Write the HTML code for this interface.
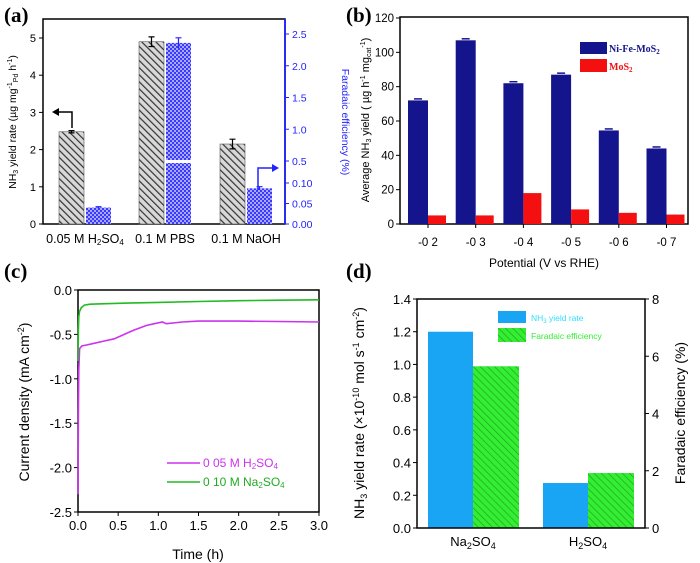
<!DOCTYPE html>
<html><head><meta charset="utf-8">
<style>
html,body{margin:0;padding:0;background:#fff;}
svg{display:block;font-family:"Liberation Sans",sans-serif;}
</style></head>
<body>
<svg id="fig" width="700" height="563" viewBox="0 0 700 563" xmlns="http://www.w3.org/2000/svg">
<defs>
<pattern id="hatchGray" patternUnits="userSpaceOnUse" width="5" height="5" patternTransform="rotate(-45)">
<rect width="5" height="5" fill="#d8d8d8"/><line x1="0" y1="0" x2="0" y2="5" stroke="#333" stroke-width="2.4"/></pattern>
<pattern id="checkBlue" patternUnits="userSpaceOnUse" width="4" height="4">
<rect width="4" height="4" fill="#3a3aff"/><rect width="2" height="2" fill="#a8a8ff"/><rect x="2" y="2" width="2" height="2" fill="#a8a8ff"/></pattern>
<pattern id="hatchGreen" patternUnits="userSpaceOnUse" width="5" height="5" patternTransform="rotate(-45)">
<rect width="5" height="5" fill="#33ee33"/><line x1="0" y1="0" x2="0" y2="5" stroke="#22aa22" stroke-width="1.5"/></pattern>
</defs>
<g id="pa"></g>
<g id="pb"></g>
<g id="pc"></g>
<g id="pd"></g>
</svg>
<script>
// ---- Panel (a) data
const aCategories = ["0.05 M H\u2082SO\u2084", "0.1 M PBS", "0.1 M NaOH"];
const aYield = [2.48, 4.9, 2.15];
const aYieldErr = [0.03, 0.13, 0.13];
const aFE = [0.04, 2.36, 0.087];
const aFEErr = [0.002, 0.08, 0.004];
const aLeftTicks = [0, 1, 2, 3, 4, 5];
const aRightTicks = [0, 0.05, 0.10, 0.5, 1.0, 1.5, 2.0, 2.5];
const aRightTickLabels = ["0.00", "0.05", "0.10", "0.5", "1.0", "1.5", "2.0", "2.5"];
// ---- Panel (b) data
const bCategories = ["-0.2", "-0.3", "-0.4", "-0.5", "-0.6", "-0.7"];
const bNiFe = [72, 107, 82, 87, 54.5, 44];
const bMoS2 = [5, 5, 18, 8.5, 6.5, 5.5];
const bTicks = [0, 20, 40, 60, 80, 100, 120];
// ---- Panel (c) data
const cTimeH2 = [0, 0.005, 0.01, 0.02, 0.05, 0.1, 0.2, 0.3, 0.45, 0.6, 0.7, 0.85, 0.95, 1.05, 1.1, 1.3, 1.5, 2.0, 2.5, 3.0];
const cCurH2 = [-2.3, -1.4, -0.9, -0.66, -0.63, -0.62, -0.6, -0.58, -0.55, -0.49, -0.45, -0.4, -0.38, -0.36, -0.38, -0.36, -0.35, -0.35, -0.355, -0.36];
const cTimeNa = [0, 0.005, 0.01, 0.02, 0.04, 0.08, 0.15, 0.5, 1.0, 1.5, 2.0, 2.5, 3.0];
const cCurNa = [-0.8, -0.45, -0.3, -0.24, -0.2, -0.17, -0.16, -0.15, -0.14, -0.13, -0.12, -0.115, -0.11];
const cYTicks = [0, -0.5, -1.0, -1.5, -2.0, -2.5];
const cXTicks = [0, 0.5, 1.0, 1.5, 2.0, 2.5, 3.0];
// ---- Panel (d) data
const dCategories = ["Na\u2082SO\u2084", "H\u2082SO\u2084"];
const dYield = [1.2, 0.275];
const dFE = [5.65, 1.92];
const dLeftTicks = [0, 0.2, 0.4, 0.6, 0.8, 1.0, 1.2, 1.4];
const dRightTicks = [0, 2, 4, 6, 8];

const NS = "http://www.w3.org/2000/svg";
function mk(parent, tag, attrs, text) {
  const e = document.createElementNS(NS, tag);
  for (const k in attrs) e.setAttribute(k, attrs[k]);
  if (text !== undefined) e.textContent = text;
  parent.appendChild(e);
  return e;
}
function lbl(parent, x, y, html, opts) {
  const t = mk(parent, "text", Object.assign({x: x, y: y, "font-size": 12, fill: "#000"}, opts || {}));
  t.innerHTML = html;
  return t;
}

// ================= Panel A
(function(){
  const g = document.getElementById("pa");
  const L = 43, R = 285, T = 19, B = 224;
  const yL = v => B - v * 37.2;
  const yR = v => v <= 0.1 ? B - v * 410 : 161 - (v - 0.5) * 63.5;
  let t = lbl(g, 4, 22, "(a)", {"font-size": 21, "font-weight": "bold", "font-family": "Liberation Serif, serif"});
   
  const fr = mk(g, "rect", {x: L, y: T, width: R - L, height: B - T, fill: "none", stroke: "#000", "stroke-width": 1.5});
   
  mk(g, "line", {x1: R, y1: T, x2: R, y2: B, stroke: "#22f", "stroke-width": 1.8});
  const gx = [59, 139, 220], bw = 25;
  aCategories.forEach((c, i) => {
    const r1 = mk(g, "rect", {x: gx[i], y: yL(aYield[i]), width: bw, height: B - yL(aYield[i]), fill: "url(#hatchGray)", stroke: "#555", "stroke-width": 0.6});
     
    mk(g, "path", {d: `M${gx[i]+bw/2} ${yL(aYield[i]-aYieldErr[i])}V${yL(aYield[i]+aYieldErr[i])}M${gx[i]+bw/2-3} ${yL(aYield[i]+aYieldErr[i])}h6M${gx[i]+bw/2-3} ${yL(aYield[i]-aYieldErr[i])}h6`, stroke: "#000", "stroke-width": 1.2});
    const bx = gx[i] + bw + 2;
    const r2 = mk(g, "rect", {x: bx, y: yR(aFE[i]), width: bw, height: B - yR(aFE[i]), fill: "url(#checkBlue)"});
     
    if (aFE[i] > 0.5) mk(g, "rect", {x: bx, y: 160, width: bw, height: 3, fill: "#fff"});
    mk(g, "path", {d: `M${bx+bw/2} ${yR(aFE[i]-aFEErr[i])}V${yR(aFE[i]+aFEErr[i])}M${bx+bw/2-3} ${yR(aFE[i]+aFEErr[i])}h6`, stroke: "#22f", "stroke-width": 1.2});
    const xl = lbl(g, gx[i] + bw + 1, 243, c.replace(/\u2082/, '<tspan font-size="8" dy="2">2</tspan><tspan dy="-2">').replace(/\u2084/, '</tspan><tspan font-size="8" dy="2">4</tspan>'), {"text-anchor": "middle", "font-size": 12.5});
     
  });
  aLeftTicks.forEach(v => {
    mk(g, "line", {x1: L, y1: yL(v), x2: L - 4, y2: yL(v), stroke: "#000"});
    lbl(g, L - 7, yL(v) + 4, String(v), {"text-anchor": "end", "font-size": 11});
  });
  aRightTicks.forEach((v, i) => {
    mk(g, "line", {x1: R, y1: yR(v), x2: R + 4, y2: yR(v), stroke: "#22f"});
    lbl(g, R + 7, yR(v) + 4, aRightTickLabels[i], {"font-size": 10.5, fill: "#22f"});
  });
  const yt = lbl(g, 0, 0, 'NH<tspan font-size="7" dy="2">3</tspan><tspan dy="-2"> yield rate (\u00b5g mg</tspan><tspan font-size="7" dy="-4">-1</tspan><tspan font-size="7" dy="6">Pd</tspan><tspan dy="-2"> h</tspan><tspan font-size="7" dy="-4">-1</tspan><tspan dy="4">)</tspan>', {"font-size": 10.5, "text-anchor": "middle", transform: "translate(16,122) rotate(-90)"});
   
  const yr = lbl(g, 0, 0, "Faradaic efficiency (%)", {"font-size": 10.5, fill: "#22f", "text-anchor": "middle", transform: "translate(342,122) rotate(90)"});
   
  mk(g, "path", {d: "M72 128V112H55", stroke: "#000", "stroke-width": 1.5, fill: "none"});
  mk(g, "path", {d: "M52 112l7-4v8z", fill: "#000"});
  mk(g, "path", {d: "M258 190V168H274", stroke: "#22f", "stroke-width": 1.5, fill: "none"});
  mk(g, "path", {d: "M279 168l-7-4v8z", fill: "#22f"});
})();

// ================= Panel B
(function(){
  const g = document.getElementById("pb");
  const L = 400, R = 688, T = 17, B = 224;
  const y = v => B - v * 206 / 120;
  const cx = i => 428 + i * 47.7;
  const fr = mk(g, "rect", {x: L, y: T, width: R - L, height: B - T, fill: "none", stroke: "#000", "stroke-width": 1.5});
   
  let t = lbl(g, 346, 22, "(b)", {"font-size": 21, "font-weight": "bold", "font-family": "Liberation Serif, serif"});
   
  bCategories.forEach((c, i) => {
    const b1 = mk(g, "rect", {x: cx(i) - 20, y: y(bNiFe[i]), width: 20, height: B - y(bNiFe[i]), fill: "#14148c"});
     
    mk(g, "line", {x1: cx(i) - 14, y1: y(bNiFe[i]) - 1.5, x2: cx(i) - 6, y2: y(bNiFe[i]) - 1.5, stroke: "#14148c", "stroke-width": 1.5});
    const b2 = mk(g, "rect", {x: cx(i), y: y(bMoS2[i]), width: 18, height: B - y(bMoS2[i]), fill: "#f41010"});
     
    mk(g, "line", {x1: cx(i), y1: B, x2: cx(i), y2: B + 4, stroke: "#000"});
    lbl(g, cx(i), 246, c.replace(".", " "), {"text-anchor": "middle", "font-size": 11.5});
  });
  bTicks.forEach(v => {
    mk(g, "line", {x1: L, y1: y(v), x2: L - 4, y2: y(v), stroke: "#000"});
    lbl(g, L - 6, y(v) + 4, String(v), {"text-anchor": "end", "font-size": 11.5});
  });
  const xt = lbl(g, 544, 267, "Potential (V vs RHE)", {"text-anchor": "middle", "font-size": 12});
   
  const yt = lbl(g, 0, 0, 'Average NH<tspan font-size="7" dy="2">3</tspan><tspan dy="-2"> yield ( \u00b5g h</tspan><tspan font-size="7" dy="-4">-1</tspan><tspan dy="4"> mg</tspan><tspan font-size="7" dy="2">cat</tspan><tspan font-size="7" dy="-6">-1</tspan><tspan dy="4">)</tspan>', {"font-size": 11, "text-anchor": "middle", transform: "translate(369,120) rotate(-90)"});
   
  const l1 = mk(g, "rect", {x: 580, y: 42, width: 27, height: 12, fill: "#14148c"});
   
  lbl(g, 609, 52, 'Ni-Fe-MoS<tspan font-size="7" dy="2">2</tspan>', {"font-size": 10, "font-weight": "bold", fill: "#14148c", "font-family": "Liberation Serif, serif"});
  const l2 = mk(g, "rect", {x: 580, y: 59, width: 27, height: 13, fill: "#f41010"});
   
  lbl(g, 609, 70, 'MoS<tspan font-size="7" dy="2">2</tspan>', {"font-size": 10, "font-weight": "bold", fill: "#f41010", "font-family": "Liberation Serif, serif"});
})();

// ================= Panel C
(function(){
  const g = document.getElementById("pc");
  const L = 78, R = 319, T = 290, B = 512;
  const x = v => L + v * (R - L) / 3;
  const y = v => T - v * (B - T) / 2.5;
  let t = lbl(g, 4, 278, "(c)", {"font-size": 21, "font-weight": "bold", "font-family": "Liberation Serif, serif"});
   
  const fr = mk(g, "rect", {x: L, y: T, width: R - L, height: B - T, fill: "none", stroke: "#000", "stroke-width": 1.5});
   
  cYTicks.forEach(v => {
    mk(g, "line", {x1: L, y1: y(v), x2: L - 4, y2: y(v), stroke: "#000"});
    lbl(g, L - 6, y(v) + 5, v.toFixed(1), {"text-anchor": "end", "font-size": 13});
  });
  cXTicks.forEach(v => {
    mk(g, "line", {x1: x(v), y1: B, x2: x(v), y2: B + 4, stroke: "#000"});
    lbl(g, x(v), B + 18, v.toFixed(1), {"text-anchor": "middle", "font-size": 13});
  });
  const p1 = mk(g, "path", {d: cTimeH2.map((v, i) => (i ? "L" : "M") + x(v).toFixed(1) + " " + y(cCurH2[i]).toFixed(1)).join(""), fill: "none", stroke: "#cc33ee", "stroke-width": 1.6});
   
  const p2 = mk(g, "path", {d: cTimeNa.map((v, i) => (i ? "L" : "M") + x(v).toFixed(1) + " " + y(cCurNa[i]).toFixed(1)).join(""), fill: "none", stroke: "#22bb22", "stroke-width": 1.6});
   
  mk(g, "line", {x1: 167, y1: 463, x2: 200, y2: 463, stroke: "#cc33ee", "stroke-width": 1.6});
  const e1 = lbl(g, 203, 467, '0 05 M H<tspan font-size="8" dy="2">2</tspan><tspan dy="-2">SO</tspan><tspan font-size="8" dy="2">4</tspan>', {"font-size": 12, fill: "#cc33ee"});
   
  mk(g, "line", {x1: 167, y1: 482, x2: 200, y2: 482, stroke: "#22bb22", "stroke-width": 1.6});
  const e2 = lbl(g, 203, 486, '0 10 M Na<tspan font-size="8" dy="2">2</tspan><tspan dy="-2">SO</tspan><tspan font-size="8" dy="2">4</tspan>', {"font-size": 12, fill: "#22aa22"});
   
  const xt = lbl(g, 198, 559, "Time (h)", {"text-anchor": "middle", "font-size": 14});
   
  const yt = lbl(g, 0, 0, 'Current density (mA cm<tspan font-size="9" dy="-5">-2</tspan><tspan dy="5">)</tspan>', {"font-size": 14, "text-anchor": "middle", transform: "translate(29,402) rotate(-90)"});
   
})();

// ================= Panel D
(function(){
  const g = document.getElementById("pd");
  const L = 417, R = 645, T = 299, B = 528;
  const yL = v => B - v * (B - T) / 1.4;
  const yR = v => B - v * (B - T) / 8;
  let t = lbl(g, 346, 278, "(d)", {"font-size": 21, "font-weight": "bold", "font-family": "Liberation Serif, serif"});
   
  const gx = [428, 543];
  dCategories.forEach((c, i) => {
    const b1 = mk(g, "rect", {x: gx[i], y: yL(dYield[i]), width: 45, height: B - yL(dYield[i]), fill: "#1aa4f4"});
     
    const b2 = mk(g, "rect", {x: gx[i] + 45, y: yR(dFE[i]), width: 46, height: B - yR(dFE[i]), fill: "url(#hatchGreen)"});
     
    lbl(g, gx[i] + 45, 546, c.replace(/\u2082/, '<tspan font-size="9" dy="3">2</tspan><tspan dy="-3">').replace(/\u2084/, '</tspan><tspan font-size="9" dy="3">4</tspan>'), {"text-anchor": "middle", "font-size": 13});
  });
  const fr = mk(g, "rect", {x: L, y: T, width: R - L, height: B - T, fill: "none", stroke: "#000", "stroke-width": 1.5});
   
  dLeftTicks.forEach(v => {
    mk(g, "line", {x1: L, y1: yL(v), x2: L - 4, y2: yL(v), stroke: "#000"});
    lbl(g, L - 6, yL(v) + 5, v.toFixed(1), {"text-anchor": "end", "font-size": 13});
  });
  dRightTicks.forEach(v => {
    mk(g, "line", {x1: R, y1: yR(v), x2: R + 4, y2: yR(v), stroke: "#000"});
    lbl(g, R + 7, yR(v) + 5, String(v), {"font-size": 13});
  });
  const l1 = mk(g, "rect", {x: 498, y: 311, width: 28, height: 12, fill: "#1aa4f4"});
   
  lbl(g, 531, 321, 'NH<tspan font-size="6" dy="2">3</tspan><tspan dy="-2"> yield rate</tspan>', {"font-size": 8.5, fill: "#33ddff"});
  const l2 = mk(g, "rect", {x: 498, y: 328, width: 28, height: 14, fill: "url(#hatchGreen)"});
   
  lbl(g, 531, 339, "Faradaic efficiency", {"font-size": 8.5, fill: "#33ee33"});
  const yt = lbl(g, 0, 0, 'NH<tspan font-size="9" dy="3">3</tspan><tspan dy="-3"> yield rate (\u00d710</tspan><tspan font-size="9" dy="-5">-10</tspan><tspan dy="5"> mol s</tspan><tspan font-size="9" dy="-5">-1</tspan><tspan dy="5"> cm</tspan><tspan font-size="9" dy="-5">-2</tspan><tspan dy="5">)</tspan>', {"font-size": 14, "text-anchor": "middle", transform: "translate(364,413) rotate(-90)"});
   
  const yr = lbl(g, 0, 0, "Faradaic efficiency (%)", {"font-size": 14, "text-anchor": "middle", transform: "translate(685,413) rotate(-90)"});
   
})();
</script>
</body></html>
